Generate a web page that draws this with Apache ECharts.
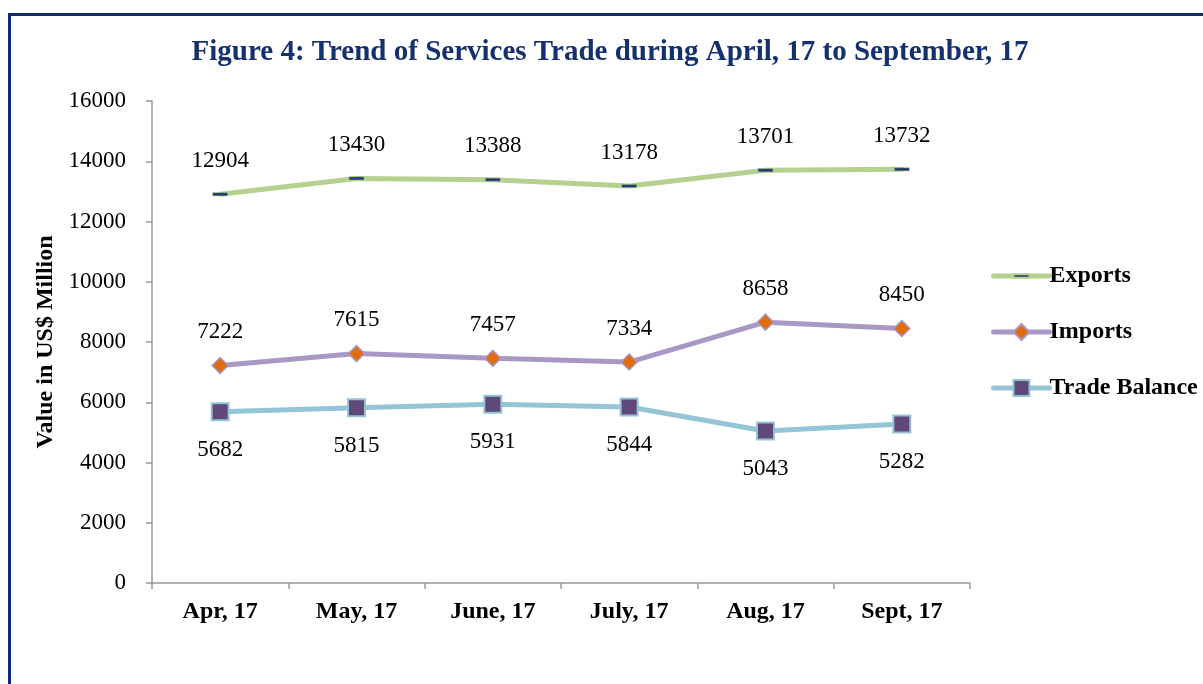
<!DOCTYPE html>
<html>
<head>
<meta charset="utf-8">
<script src="https://cdn.jsdelivr.net/npm/echarts@6/dist/echarts.min.js"></script>
<style>
html,body{margin:0;padding:0;background:#fff;}
#main{width:1203px;height:684px;}
</style>
</head>
<body>
<div id="main"></div>
<script>
const categories = ['Apr, 17', 'May, 17', 'June, 17', 'July, 17', 'Aug, 17', 'Sept, 17'];
const exportsData = [12904, 13430, 13388, 13178, 13701, 13732];
const importsData = [7222, 7615, 7457, 7334, 8658, 8450];
const balanceData = [5682, 5815, 5931, 5844, 5043, 5282];
const seriesNames = ['Exports', 'Imports', 'Trade Balance'];
const yTicks = { min: 0, max: 16000, interval: 2000 };

const serif = '"Liberation Serif", "Times New Roman", serif';
const chart = echarts.init(document.getElementById('main'), null, { renderer: 'canvas' });

const labelStyle = { show: true, fontFamily: serif, fontSize: 23, color: '#000' };

chart.setOption({
  backgroundColor: '#fff',
  animation: false,
  graphic: [{
    type: 'rect',
    shape: { x: 9.5, y: 14.5, width: 1400, height: 1000 },
    style: { fill: 'none', stroke: '#0d2a6e', lineWidth: 3 },
    silent: true
  }],
  title: {
    text: 'Figure 4: Trend of Services Trade during April, 17 to September, 17',
    left: 605, top: 33, textAlign: 'center',
    textStyle: { fontFamily: serif, fontSize: 29, fontWeight: 'bold', color: '#14306e' }
  },
  legend: {
    orient: 'vertical',
    left: 986, top: 259,
    itemGap: 32,
    itemWidth: 56, itemHeight: 20,
    lineStyle: { width: 'inherit', cap: 'round' },
    textStyle: { fontFamily: serif, fontSize: 24, fontWeight: 'bold', color: '#000', padding: [0,0,0,-5] },
    data: seriesNames
  },
  grid: { left: 152, right: 233, top: 101, bottom: 101, containLabel: false },
  xAxis: {
    type: 'category',
    data: categories,
    boundaryGap: true,
    axisLine: { lineStyle: { color: '#999', width: 1.5 } },
    axisTick: { show: true, alignWithLabel: false, length: 6, lineStyle: { color: '#999', width: 1.5 } },
    axisLabel: { fontFamily: serif, fontSize: 24, fontWeight: 'bold', color: '#000', margin: 17 }
  },
  yAxis: {
    type: 'value',
    min: yTicks.min, max: yTicks.max, interval: yTicks.interval,
    name: 'Value in US$ Million',
    nameLocation: 'middle', nameGap: 94, nameRotate: 90,
    nameTextStyle: { fontFamily: serif, fontSize: 24, fontWeight: 'bold', color: '#000' },
    axisLine: { show: true, lineStyle: { color: '#999', width: 1.5 } },
    axisTick: { show: true, length: 6, lineStyle: { color: '#999', width: 1.5 } },
    splitLine: { show: false },
    axisLabel: { fontFamily: serif, fontSize: 23, color: '#000', margin: 26, formatter: v => String(v) }
  },
  series: [
    {
      name: seriesNames[0], type: 'line', data: exportsData,
      lineStyle: { color: '#b6d08f', width: 5, cap: 'round' },
      itemStyle: { color: '#1f3870', borderColor: '#b6d08f', borderWidth: 0.5 },
      symbol: 'path://M0,0 M14,14 M0,5.5 L14,5.5 L14,8.5 L0,8.5 Z', symbolSize: 15,
      label: Object.assign({}, labelStyle, { position: 'top', distance: 14 })
    },
    {
      name: seriesNames[1], type: 'line', data: importsData,
      lineStyle: { color: '#a898c6', width: 5, cap: 'round' },
      itemStyle: { color: '#e36c0a', borderColor: '#a898c6', borderWidth: 1.5 },
      symbol: 'diamond', symbolSize: 16,
      label: Object.assign({}, labelStyle, { position: 'top', distance: 13 })
    },
    {
      name: seriesNames[2], type: 'line', data: balanceData,
      lineStyle: { color: '#93c5d7', width: 5, cap: 'round' },
      itemStyle: { color: '#60497a', borderColor: '#93c5d7', borderWidth: 2 },
      symbol: 'rect', symbolSize: 17,
      label: Object.assign({}, labelStyle, { position: 'bottom', distance: 17 })
    }
  ]
});
</script>
</body>
</html>
